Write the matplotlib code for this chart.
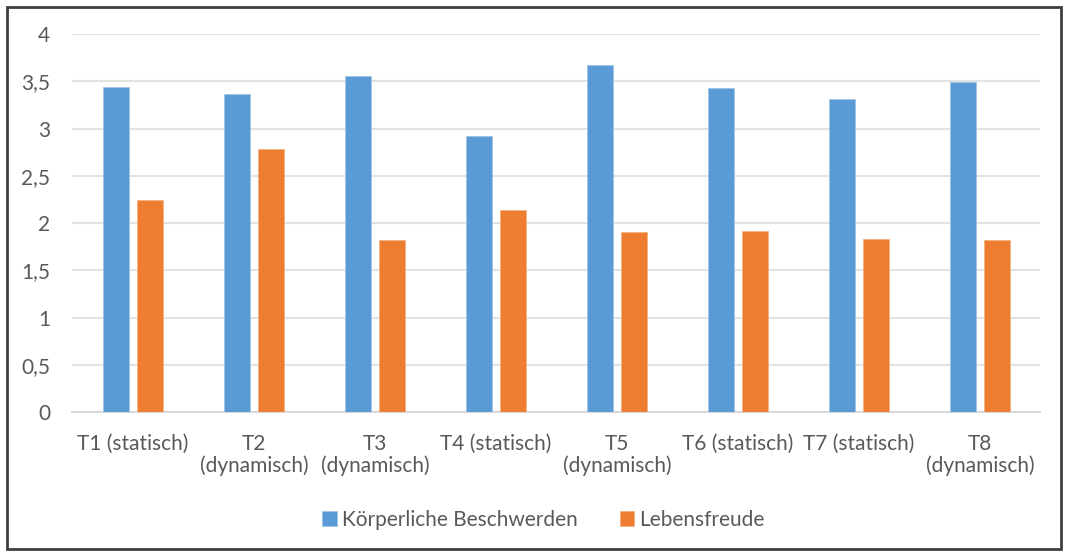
import numpy as np
import matplotlib.pyplot as plt
from matplotlib.patches import Rectangle
from matplotlib.ticker import FuncFormatter

plt.rcParams['font.family'] = ['Lato', 'DejaVu Sans']

kategorien = ['T1 (statisch)', 'T2\n(dynamisch)', 'T3\n(dynamisch)', 'T4 (statisch)',
              'T5\n(dynamisch)', 'T6 (statisch)', 'T7 (statisch)', 'T8\n(dynamisch)']
beschwerden = [3.44, 3.37, 3.56, 2.92, 3.68, 3.43, 3.31, 3.49]
lebensfreude = [2.25, 2.79, 1.82, 2.14, 1.91, 1.92, 1.83, 1.82]

blau = '#5B9BD5'
orange = '#ED7D31'
grau = '#595959'

fig = plt.figure(figsize=(10.66, 5.53), dpi=100)
ax = fig.add_axes([0.068, 0.255, 0.908, 0.683])

x = np.arange(len(kategorien))
breite = 0.22
ax.bar(x - 0.14, beschwerden, breite, color=blau, edgecolor='#9DC3E6', linewidth=0.6,
       label='Körperliche Beschwerden', zorder=3)
ax.bar(x + 0.14, lebensfreude, breite, color=orange, edgecolor='#F4B183', linewidth=0.6,
       label='Lebensfreude', zorder=3)

ax.set_xlim(-0.5, len(kategorien) - 0.5)
ax.set_ylim(0, 4)
ax.set_yticks(np.arange(0, 4.01, 0.5))
ax.yaxis.set_major_formatter(FuncFormatter(lambda v, p: f'{v:g}'.replace('.', ',')))
ax.set_xticks(x)
ax.set_xticklabels(kategorien, linespacing=1.05, va='top')

ax.grid(axis='y', color='#E3E3E3', linewidth=1.5, zorder=0)
for s in ['top', 'right', 'left']:
    ax.spines[s].set_visible(False)
ax.spines['bottom'].set_color('#D9D9D9')
ax.spines['bottom'].set_linewidth(1.5)
ax.tick_params(axis='both', length=0, labelsize=15, colors=grau)
ax.tick_params(axis='x', pad=16)
ax.tick_params(axis='y', pad=16)

fig.legend(loc='center', bbox_to_anchor=(0.51, 0.06), ncol=2, frameon=False,
           fontsize=15, labelcolor=grau, handlelength=0.7, handleheight=0.7,
           handletextpad=0.25, columnspacing=2.0)

# dunkler Rahmen um die ganze Grafik
fig.patches.append(Rectangle((0.007, 0.008), 0.988, 0.98, transform=fig.transFigure,
                             fill=False, edgecolor='#3F3F3F', linewidth=2))

fig.savefig('out.png', dpi=100)
